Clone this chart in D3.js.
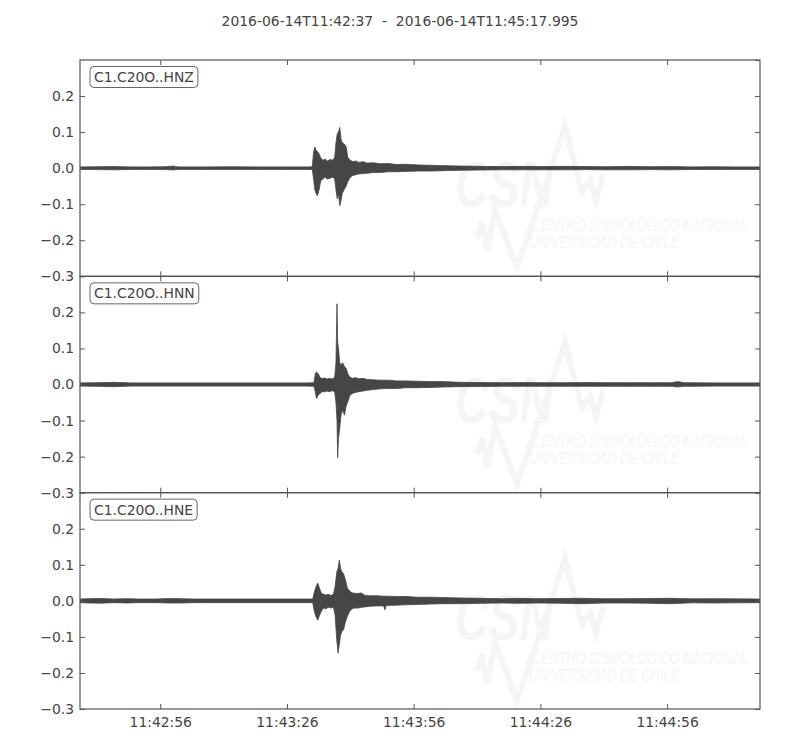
<!DOCTYPE html>
<html>
<head>
<meta charset="utf-8">
<script src="https://cdn.jsdelivr.net/npm/d3@7"></script>
<style>
  html, body { margin: 0; padding: 0; background: #fff; }
  svg { display: block; font-family: "DejaVu Sans", sans-serif; }
</style>
</head>
<body>
<svg id="chart" width="800" height="750"></svg>
<script>
// ---------------- DATA ----------------
const titleText = "2016-06-14T11:42:37  -  2016-06-14T11:45:17.995";
const startEpoch = Date.UTC(2016, 5, 14, 11, 42, 37);
const durationSec = 160.995;
const channels = ["C1.C20O..HNZ", "C1.C20O..HNN", "C1.C20O..HNE"];
const yTickValues = [-0.3, -0.2, -0.1, 0.0, 0.1, 0.2];
const xTickSeconds = [19, 49, 79, 109, 139];   // 11:42:56 ... 11:44:56

// envelope of each trace (seconds after start, max, min)
const hnzTime  = [0,4,8,12,16,20,22.3,22.6,24,30,36,42,48,54,55.0,55.3,55.6,55.9,56.2,56.6,57.0,57.5,58.0,58.6,59.2,59.8,60.3,60.6,60.9,61.2,61.5,61.8,62.1,62.5,63.0,63.4,64.0,64.6,65.3,66,67,68,69.5,71,73,75,77,80,83,86,90,95,100,105,110,115,120,125,130,135,140,145,150,155,160.995];
const hnzUpper = [.0035,.004,.0045,.0035,.0035,.004,.006,.004,.0035,.0035,.004,.0035,.0035,.0035,.004,.045,.059,.05,.046,.04,.028,.022,.025,.02,.024,.022,.03,.07,.095,.10,.113,.08,.07,.068,.06,.03,.022,.018,.02,.016,.018,.014,.015,.012,.013,.01,.011,.009,.008,.007,.006,.005,.0045,.005,.0045,.005,.0045,.004,.005,.004,.0045,.0035,.004,.0035,.0035];
const hnzLower = [-.0035,-.004,-.0045,-.0035,-.0035,-.004,-.005,-.004,-.0035,-.0035,-.0035,-.0035,-.0035,-.0035,-.004,-.03,-.06,-.07,-.077,-.06,-.035,-.03,-.025,-.03,-.028,-.025,-.03,-.06,-.085,-.07,-.104,-.09,-.07,-.06,-.05,-.037,-.025,-.02,-.018,-.016,-.015,-.014,-.012,-.012,-.01,-.01,-.009,-.008,-.008,-.007,-.006,-.005,-.0045,-.0045,-.0045,-.0045,-.004,-.0045,-.0045,-.004,-.0045,-.0035,-.004,-.0035,-.0035];

const hnnTime  = [0,4,8,12,16,20,24,30,36,42,48,54,55.4,55.7,56.0,56.4,56.8,57.3,57.9,58.5,59.1,59.7,60.3,60.6,60.85,61.0,61.2,61.5,61.8,62.2,62.6,63.0,63.4,63.9,64.5,65.2,66,67,68,69.5,71,73,75,77,80,83,86,90,95,100,105,110,115,120,125,130,135,140,141.5,143,145,150,155,160.995];
const hnnUpper = [.0045,.005,.006,.0045,.0045,.0045,.0045,.0045,.0045,.0045,.0045,.0045,.005,.03,.035,.03,.02,.016,.018,.015,.017,.015,.02,.06,.224,.12,.10,.06,.055,.06,.05,.045,.03,.02,.017,.019,.016,.017,.014,.013,.012,.012,.01,.01,.009,.008,.008,.006,.0055,.005,.0055,.005,.005,.0055,.005,.005,.005,.005,.008,.005,.005,.0045,.0045,.0045];
const hnnLower = [-.0045,-.005,-.006,-.0045,-.0045,-.0045,-.0045,-.0045,-.0045,-.0045,-.0045,-.0045,-.005,-.02,-.039,-.03,-.025,-.02,-.02,-.018,-.02,-.017,-.02,-.05,-.10,-.203,-.15,-.12,-.085,-.07,-.085,-.06,-.048,-.03,-.025,-.022,-.02,-.018,-.016,-.014,-.012,-.011,-.011,-.009,-.009,-.008,-.007,-.006,-.0055,-.005,-.005,-.005,-.005,-.005,-.005,-.005,-.005,-.005,-.007,-.005,-.005,-.0045,-.0045,-.0045];

const hneTime  = [0,2,5,8,11,14,18,21,24,27,30,36,42,48,54,55.1,55.5,55.9,56.3,56.7,57.1,57.6,58.2,58.8,59.4,60.0,60.4,60.8,61.1,61.4,61.7,62.0,62.4,62.8,63.3,63.8,64.4,65.0,65.8,66.6,67.5,68.5,70.5,71.9,72.2,72.5,75,77,80,83,86,90,95,100,104,108,113,119,124,129,134,139.7,145,150,155,160.995];
const hneUpper = [.005,.006,.0065,.005,.006,.005,.005,.0065,.006,.005,.005,.005,.005,.005,.005,.005,.025,.04,.049,.035,.022,.018,.016,.018,.015,.018,.04,.08,.09,.113,.09,.08,.075,.06,.035,.028,.022,.021,.02,.022,.015,.014,.014,.013,.013,.013,.012,.012,.01,.01,.009,.008,.007,.006,.007,.006,.0065,.007,.006,.006,.0065,.007,.0055,.006,.0055,.005];
const hneLower = [-.005,-.006,-.0065,-.005,-.006,-.005,-.005,-.006,-.006,-.005,-.005,-.005,-.005,-.005,-.005,-.005,-.03,-.045,-.054,-.04,-.03,-.02,-.022,-.018,-.02,-.018,-.04,-.11,-.145,-.12,-.095,-.085,-.08,-.06,-.043,-.03,-.022,-.02,-.02,-.018,-.017,-.015,-.014,-.014,-.025,-.013,-.012,-.011,-.01,-.009,-.008,-.008,-.007,-.006,-.007,-.006,-.0065,-.008,-.006,-.006,-.0065,-.008,-.0055,-.006,-.0055,-.005];

const traceTimes  = [hnzTime, hnnTime, hneTime];
const traceUppers = [hnzUpper, hnnUpper, hneUpper];
const traceLowers = [hnzLower, hnnLower, hneLower];

// ---------------- LAYOUT ----------------
const plotLeft = 80, plotRight = 760, plotTop = 60, plotBottom = 709;
const panelH = (plotBottom - plotTop) / 3;
const textColor = "#444444";
const frameColor = "#555555";
const traceColor = "#464646";
const wmColor = "#f5f5f5";

const svg = d3.select("#chart");

svg.append("text")
  .attr("x", 400).attr("y", 26)
  .attr("text-anchor", "middle")
  .attr("fill", textColor)
  .style("font-size", "13.9px")
  .style("white-space", "pre")
  .attr("xml:space", "preserve")
  .text(titleText);

const x = d3.scaleLinear().domain([0, durationSec]).range([plotLeft, plotRight]);
const fmtTime = d3.utcFormat("%H:%M:%S");

channels.forEach((name, i) => {
  const y0 = plotTop + i * panelH, y1 = y0 + panelH;
  const y = d3.scaleLinear().domain([-0.3, 0.3]).range([y1, y0]);
  const g = svg.append("g");

  const clipId = "clip" + i;
  svg.append("clipPath").attr("id", clipId)
    .append("rect").attr("x", plotLeft).attr("y", y0).attr("width", plotRight - plotLeft).attr("height", panelH);

  // watermark (decoration)
  const wm = g.append("g");
  const wx = 455, wy = y0;
  wm.append("path")
    .attr("d", d3.line()([[wx+22, wy+178],[wx+27, wy+162],[wx+32, wy+190],[wx+40, wy+150],[wx+62, wy+208],[wx+110, wy+66],[wx+127, wy+132],[wx+135, wy+120],[wx+141, wy+140],[wx+148, wy+114]]))
    .attr("fill", "none").attr("stroke", wmColor).attr("stroke-width", 6)
    .attr("stroke-linejoin", "miter");
  wm.append("text")
    .attr("x", wx).attr("y", wy + 147)
    .attr("fill", wmColor)
    .style("font-family", "'Liberation Sans', Arial, sans-serif")
    .style("font-weight", "bold").style("font-style", "italic")
    .style("font-size", "64px")
    .attr("textLength", 98).attr("lengthAdjust", "spacingAndGlyphs")
    .text("CSN");
  wm.append("text")
    .attr("x", wx + 77).attr("y", wy + 171)
    .attr("fill", wmColor)
    .style("font-family", "'Liberation Sans Narrow', 'Liberation Sans', sans-serif")
    .style("font-style", "italic")
    .style("font-size", "16px")
    .attr("textLength", 216).attr("lengthAdjust", "spacingAndGlyphs")
    .text("CENTRO SISMOLÓGICO NACIONAL");
  wm.append("text")
    .attr("x", wx + 74).attr("y", wy + 188)
    .attr("fill", wmColor)
    .style("font-family", "'Liberation Sans Narrow', 'Liberation Sans', sans-serif")
    .style("font-style", "italic")
    .style("font-size", "16px")
    .attr("textLength", 150).attr("lengthAdjust", "spacingAndGlyphs")
    .text("UNIVERSIDAD DE CHILE");

  // trace envelope
  const times = traceTimes[i], up = traceUppers[i], lo = traceLowers[i];
  const pts = times.map((t, k) => ({ t, hi: up[k], lo: lo[k] }));
  g.append("path")
    .datum(pts)
    .attr("clip-path", `url(#${clipId})`)
    .attr("d", d3.area().x(d => x(d.t)).y0(d => y(d.lo)).y1(d => y(d.hi)))
    .attr("fill", traceColor)
    .attr("stroke", traceColor)
    .attr("stroke-width", 0.8)
    .attr("stroke-linejoin", "round");

  // axes: ticks inward on all four sides
  const axL = d3.axisLeft(y).tickValues(yTickValues).tickSizeInner(-5).tickSizeOuter(0).tickPadding(6).tickFormat(d3.format(".1f"));
  const axR = d3.axisRight(y).tickValues(yTickValues.concat([0.3])).tickSizeInner(-5).tickSizeOuter(0).tickFormat("");
  const axT = d3.axisTop(x).tickValues(xTickSeconds).tickSizeInner(-5).tickSizeOuter(0).tickFormat("");
  const axB = d3.axisBottom(x).tickValues(xTickSeconds).tickSizeInner(-5).tickSizeOuter(0).tickPadding(8)
    .tickFormat(i === 2 ? (s => fmtTime(new Date(startEpoch + s * 1000))) : "");

  const styleAxis = sel => {
    sel.select(".domain").remove();
    sel.selectAll("line").attr("stroke", frameColor);
    sel.selectAll("text").attr("fill", textColor).style("font-size", "13.9px").style("font-family", "'DejaVu Sans', sans-serif");
  };
  g.append("g").attr("transform", `translate(${plotLeft},0)`).call(axL).call(styleAxis);
  g.append("g").attr("transform", `translate(${plotRight},0)`).call(axR).call(styleAxis);
  g.append("g").attr("transform", `translate(0,${y0})`).call(axT).call(styleAxis);
  g.append("g").attr("transform", `translate(0,${y1})`).call(axB).call(styleAxis);

  g.append("rect")
    .attr("x", plotLeft).attr("y", y0).attr("width", plotRight - plotLeft).attr("height", panelH)
    .attr("fill", "none").attr("stroke", frameColor).attr("stroke-width", 1.2);

  // channel label box
  const lab = g.append("g");
  const txt = lab.append("text")
    .attr("x", 94).attr("y", y0 + 22)
    .attr("fill", textColor)
    .style("font-size", "13.9px")
    .text(name);
  const bb = txt.node().getBBox();
  lab.insert("rect", "text")
    .attr("x", bb.x - 4).attr("y", bb.y - 2.5)
    .attr("width", bb.width + 8).attr("height", bb.height + 5)
    .attr("rx", 4).attr("ry", 4)
    .attr("fill", "#fff").attr("stroke", "#666").attr("stroke-width", 1);
});
</script>
</body>
</html>
